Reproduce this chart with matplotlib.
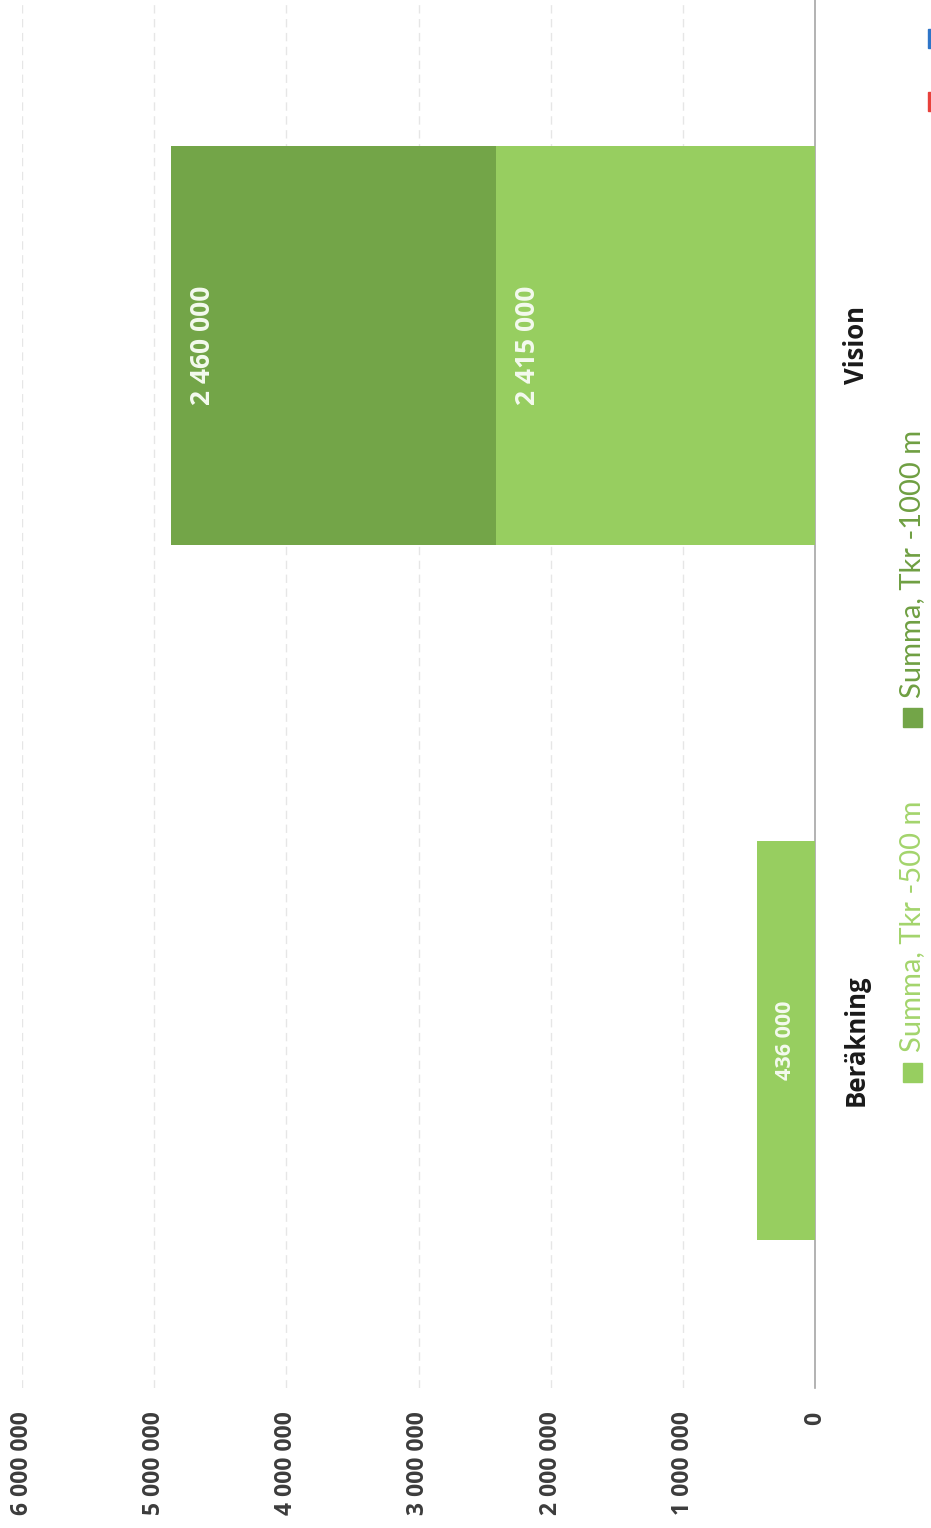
import matplotlib
matplotlib.use("Agg")
import matplotlib.pyplot as plt
from matplotlib.patches import Rectangle
import numpy as np

# data
categories = ["Beräkning", "Vision"]
series_names = ["Summa, Tkr -500 m", "Summa, Tkr -1000 m"]
val_500 = [436000, 2415000]
val_1000 = [0, 2460000]
x_ticks = [0, 1000000, 2000000, 3000000, 4000000, 5000000, 6000000]
x_ticklabels = ["0", "1 000 000", "2 000 000", "3 000 000",
                "4 000 000", "5 000 000", "6 000 000"]

C_LIGHT = "#97CE60"
C_DARK = "#73A548"
TXT_LIGHT = "#A3D46C"
TXT_DARK = "#6F9F42"
FONT_B = ["Open Sans", "DejaVu Sans"]
FONT = ["Lato", "DejaVu Sans"]

W, H = 931, 1528
fig = plt.figure(figsize=(W / 100, H / 100), dpi=100)
ax = fig.add_axes([22 / W, 1 - 1388 / H, (815 - 22) / W, 1390 / H])

y = np.arange(len(categories))
bh = 0.575
b1 = ax.barh(y, val_500, height=bh, color=C_LIGHT, zorder=3)
b2 = ax.barh(y, val_1000, height=bh, left=val_500, color=C_DARK, zorder=3)

ax.set_xlim(6000000, 0)
ax.set_ylim(-0.5, 1.5)

# dashed vertical gridlines
ax.set_xticks(x_ticks)
ax.set_xticklabels(x_ticklabels, rotation=90, fontsize=16.5, fontweight="bold",
                   color="#3c3c3c", family=FONT_B)
ax.tick_params(axis="x", length=0, pad=17)
ax.grid(axis="x", color="#E6E6E6", linestyle=(0, (6, 4)), linewidth=1.0, zorder=0)

ax.yaxis.tick_right()
ax.set_yticks(y)
ax.set_yticklabels(categories, rotation=90, fontsize=18.5, fontweight="bold",
                   color="#1a1a1a", family=FONT_B, ha="left", va="center")
ax.tick_params(axis="y", length=0, pad=20)

for s in ("top", "left", "bottom"):
    ax.spines[s].set_visible(False)
ax.spines["right"].set_color("#A6A6A6")
ax.spines["right"].set_linewidth(1.2)

# data labels, inside end
for bars, vals, lefts in ((b1, val_500, [0] * len(val_500)), (b2, val_1000, val_500)):
    for i, (v, l) in enumerate(zip(vals, lefts)):
        if v <= 0:
            continue
        size = 19 if v > 1000000 else 15.5
        ax.annotate(f"{v:,}".replace(",", " "), xy=(l + v, y[i]),
                    xytext=(18, 0), textcoords="offset pixels",
                    rotation=90, ha="left", va="center", color="#F4FAEE",
                    fontsize=size, fontweight="bold", family=FONT_B, zorder=5)

# legend (rotated, drawn by hand)
leg = [(series_names[0], C_LIGHT, TXT_LIGHT, 1072),
       (series_names[1], C_DARK, TXT_DARK, 717)]
sq = 19
for name, c, tc, yc in leg:
    fig.patches.append(Rectangle(((912 - sq / 2) / W, 1 - (yc + sq / 2) / H),
                                 sq / W, sq / H, transform=fig.transFigure,
                                 color=c))
    fig.text(912 / W, 1 - (yc - sq / 2 - 10) / H, name, rotation=90,
             ha="center", va="bottom", color=tc, fontsize=21, family=FONT)

# second legend row, mostly cut off at the right edge
for c, yc in (("#E8413C", 101), ("#2E75C8", 38)):
    fig.patches.append(Rectangle(((937 - sq / 2) / W, 1 - (yc + sq / 2) / H),
                                 sq / W, sq / H, transform=fig.transFigure,
                                 color=c))

fig.savefig("out.png", dpi=100)
